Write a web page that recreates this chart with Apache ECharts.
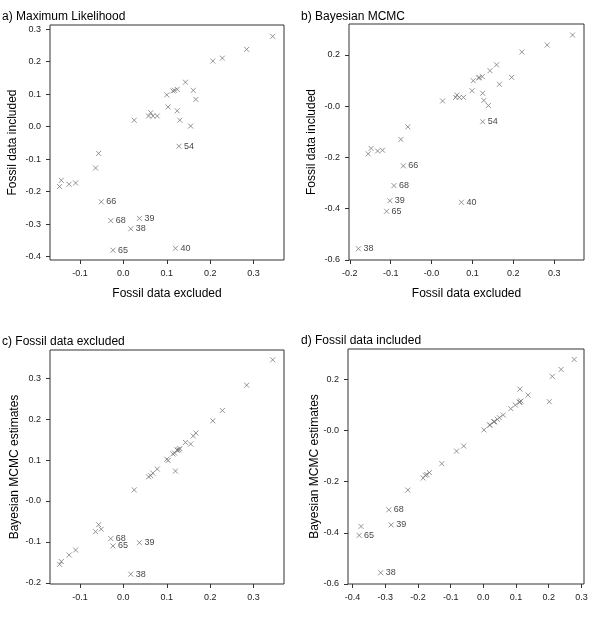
<!DOCTYPE html>
<html>
<head>
<meta charset="utf-8">
<script src="https://cdn.jsdelivr.net/npm/echarts@6/dist/echarts.min.js"></script>
<style>
html,body{margin:0;padding:0;background:#fff;}
#chart{width:600px;height:621px;}
</style>
</head>
<body>
<div id="chart"></div>
<script>
// Four estimates per node (33 nodes)
const mlExcluded = [0.344, 0.284, 0.228, 0.206, 0.143, 0.161, 0.167, 0.124, 0.118, 0.114, 0.100, 0.103, 0.124, 0.130, 0.155, 0.025, 0.063, 0.058, 0.068, 0.078, 0.128, -0.057, -0.064, -0.143, -0.147, -0.125, -0.110, -0.051, -0.029, 0.037, 0.017, -0.024, 0.120];
const mlIncluded = [0.278, 0.238, 0.211, 0.202, 0.137, 0.112, 0.084, 0.115, 0.112, 0.110, 0.098, 0.061, 0.049, 0.020, 0.002, 0.020, 0.043, 0.033, 0.033, 0.033, -0.060, -0.082, -0.127, -0.165, -0.184, -0.177, -0.173, -0.231, -0.289, -0.282, -0.314, -0.380, -0.374];
const mcmcExcluded = [0.345, 0.283, 0.221, 0.196, 0.143, 0.159, 0.166, 0.124, 0.117, 0.115, 0.102, 0.099, 0.125, 0.128, 0.139, 0.027, 0.062, 0.059, 0.068, 0.078, 0.125, -0.058, -0.075, -0.148, -0.155, -0.132, -0.120, -0.069, -0.092, -0.102, -0.179, -0.110, 0.073];
const mcmcIncluded = [0.277, 0.238, 0.211, 0.112, 0.138, 0.161, 0.085, 0.115, 0.111, 0.110, 0.099, 0.060, 0.050, 0.022, 0.002, 0.020, 0.043, 0.034, 0.034, 0.034, -0.061, -0.081, -0.130, -0.165, -0.186, -0.175, -0.172, -0.233, -0.310, -0.369, -0.556, -0.410, -0.375];
const nodeIds = ['', '', '', '', '', '', '', '', '', '', '', '', '', '', '', '', '', '', '', '', '54', '', '', '', '', '', '', '66', '68', '39', '38', '65', '40'];

const labelsA = ['54', '66', '68', '39', '38', '65', '40'];
const labelsB = ['54', '66', '68', '39', '38', '65', '40'];
const labelsC = ['68', '65', '39', '38'];
const labelsD = ['68', '39', '65', '38'];

const panelTitles = ['a) Maximum Likelihood', 'b) Bayesian MCMC', 'c) Fossil data excluded', 'd) Fossil data included'];
const xTitles = ['Fossil data excluded', 'Fossil data excluded', '', ''];
const yTitles = ['Fossil data included', 'Fossil data included', 'Bayesian MCMC estimates', 'Bayesian MCMC estimates'];

// tick values and their printed labels
const ticksAx = [-0.1, 0.0, 0.1, 0.2, 0.3];
const tickLabelsAx = ['-0.1', '0.0', '0.1', '0.2', '0.3'];
const ticksAy = [-0.4, -0.3, -0.2, -0.1, 0.0, 0.1, 0.2, 0.3];
const tickLabelsAy = ['-0.4', '-0.3', '-0.2', '-0.1', '0.0', '0.1', '0.2', '0.3'];
const ticksBx = [-0.2, -0.1, 0.0, 0.1, 0.2, 0.3];
const tickLabelsBx = ['-0.2', '-0.1', '-0.0', '0.1', '0.2', '0.3'];
const ticksBy = [-0.6, -0.4, -0.2, 0.0, 0.2];
const tickLabelsBy = ['-0.6', '-0.4', '-0.2', '-0.0', '0.2'];
const ticksCx = [-0.1, 0.0, 0.1, 0.2, 0.3];
const tickLabelsCx = ['-0.1', '0.0', '0.1', '0.2', '0.3'];
const ticksCy = [-0.2, -0.1, 0.0, 0.1, 0.2, 0.3];
const tickLabelsCy = ['-0.2', '-0.1', '-0.0', '0.1', '0.2', '0.3'];
const ticksDx = [-0.4, -0.3, -0.2, -0.1, 0.0, 0.1, 0.2, 0.3];
const tickLabelsDx = ['-0.4', '-0.3', '-0.2', '-0.1', '0.0', '0.1', '0.2', '0.3'];
const ticksDy = [-0.6, -0.4, -0.2, 0.0, 0.2];
const tickLabelsDy = ['-0.6', '-0.4', '-0.2', '-0.0', '0.2'];

const FONT = 'Liberation Sans, Arial, sans-serif';
const grids = [
  {left: 50, top: 25, width: 234, height: 235},
  {left: 349, top: 24, width: 235, height: 236},
  {left: 50, top: 350, width: 234, height: 234},
  {left: 348, top: 349, width: 236, height: 235}
];
const ranges = [
  {x: [-0.169, 0.370], y: [-0.410, 0.313]},
  {x: [-0.202, 0.373], y: [-0.600, 0.320]},
  {x: [-0.169, 0.370], y: [-0.203, 0.369]},
  {x: [-0.414, 0.308], y: [-0.600, 0.318]}
];
const xTicks = [[ticksAx, tickLabelsAx], [ticksBx, tickLabelsBx], [ticksCx, tickLabelsCx], [ticksDx, tickLabelsDx]];
const yTicks = [[ticksAy, tickLabelsAy], [ticksBy, tickLabelsBy], [ticksCy, tickLabelsCy], [ticksDy, tickLabelsDy]];
const pairs = [[mlExcluded, mlIncluded, labelsA], [mcmcExcluded, mcmcIncluded, labelsB], [mlExcluded, mcmcExcluded, labelsC], [mlIncluded, mcmcIncluded, labelsD]];

function makeAxis(i, range, tk, pos) {
  const vals = tk[0], labs = tk[1];
  return {
    type: 'value', gridIndex: i, min: range[0], max: range[1], position: pos,
    splitLine: {show: false},
    axisLine: {show: false, onZero: false},
    axisTick: {show: true, inside: false, length: 4, customValues: vals, lineStyle: {color: '#333', width: 1}},
    axisLabel: {
      customValues: vals, margin: 9, fontSize: 9, color: '#222', fontFamily: FONT,
      formatter: function (v) {
        const k = vals.findIndex(t => Math.abs(t - v) < 1e-9);
        return k >= 0 ? labs[k] : '';
      }
    }
  };
}

const option = {
  animation: false,
  grid: grids.map(g => Object.assign({show: true, borderColor: '#333', borderWidth: 1, backgroundColor: 'transparent'}, g)),
  xAxis: grids.map((g, i) => makeAxis(i, ranges[i].x, xTicks[i], 'bottom')),
  yAxis: grids.map((g, i) => makeAxis(i, ranges[i].y, yTicks[i], 'left')),
  series: pairs.map((p, i) => ({
    type: 'scatter', xAxisIndex: i, yAxisIndex: i,
    symbol: 'path://M0,0L10,10M0,10L10,0', symbolSize: 5,
    itemStyle: {color: 'transparent', borderColor: '#7a7a7a', borderWidth: 1},
    emphasis: {disabled: true},
    label: {
      show: true, position: 'right', distance: 2, fontSize: 9, color: '#111', fontFamily: FONT,
      formatter: function (pr) { const id = pr.value[2]; return p[2].indexOf(id) >= 0 ? id : ''; }
    },
    data: p[0].map((x, k) => [x, p[1][k], nodeIds[k]])
  })),
  graphic: []
};

const titlePos = [[2, 17], [301, 17], [2, 342], [301, 341]];
const xTitlePos = [[167, 294], [466.5, 293.5]];
const yTitlePos = [[12.5, 142.5], [312, 142], [15, 467], [315, 466.5]];
panelTitles.forEach((t, i) => option.graphic.push({
  type: 'text', x: titlePos[i][0], y: titlePos[i][1],
  style: {text: t, fontSize: 12, fontFamily: FONT, fill: '#000', align: 'left', verticalAlign: 'middle'}
}));
xTitles.forEach((t, i) => { if (t) option.graphic.push({
  type: 'text', x: xTitlePos[i][0], y: xTitlePos[i][1],
  style: {text: t, fontSize: 12, fontFamily: FONT, fill: '#000', align: 'center', verticalAlign: 'middle'}
}); });
yTitles.forEach((t, i) => option.graphic.push({
  type: 'text', x: yTitlePos[i][0], y: yTitlePos[i][1], rotation: Math.PI / 2,
  style: {text: t, fontSize: 12, fontFamily: FONT, fill: '#000', align: 'center', verticalAlign: 'middle'}
}));

const chart = echarts.init(document.getElementById('chart'), null, {renderer: 'canvas'});
chart.setOption(option);
</script>
</body>
</html>
